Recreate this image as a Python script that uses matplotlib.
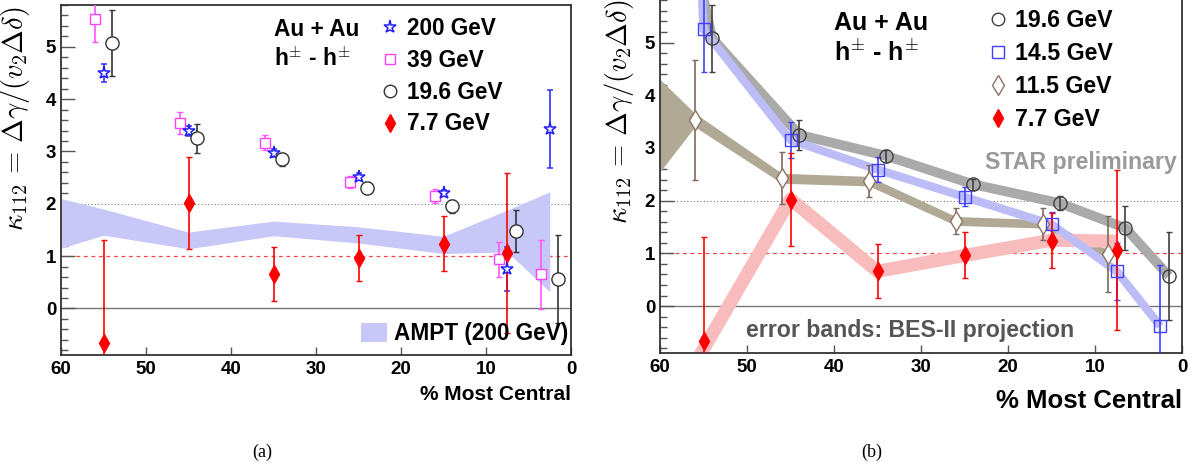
import matplotlib
matplotlib.use("Agg")
import matplotlib.pyplot as plt
from matplotlib.lines import Line2D
from matplotlib.patches import Patch

plt.rcParams['font.family'] = ['Liberation Sans', 'DejaVu Sans']
plt.rcParams['mathtext.fontset'] = 'cm'

# ---------------- data: panel (a) ----------------
cent_200 = [55, 45, 35, 25, 15, 7.5, 2.5]
k_200 = [4.50, 3.39, 2.97, 2.52, 2.21, 0.76, 3.43]
e_200 = [0.17, 0.10, 0.07, 0.06, 0.06, 0.42, 0.75]

cent_39 = [56, 46, 36, 26, 16, 8.5, 3.5]
k_39 = [5.54, 3.55, 3.17, 2.42, 2.15, 0.94, 0.65]
e_39 = [0.44, 0.21, 0.15, 0.12, 0.13, 0.33, 0.66]

cent_196 = [54, 44, 34, 24, 14, 6.5, 1.5]
k_196 = [5.08, 3.25, 2.85, 2.31, 1.95, 1.48, 0.57]
e_196 = [0.63, 0.28, 0.12, 0.11, 0.13, 0.41, 0.84]

cent_77 = [55, 45, 35, 25, 15, 7.5]
k_77 = [-0.67, 2.02, 0.66, 0.97, 1.24, 1.06]
e_77 = [1.98, 0.88, 0.51, 0.44, 0.52, 1.52]

cent_ampt = [60, 55, 45, 35, 25, 15, 7.5, 2.5]
ampt_lo = [1.15, 1.40, 1.14, 1.39, 1.25, 1.05, 1.08, 0.32]
ampt_hi = [2.10, 1.90, 1.46, 1.67, 1.56, 1.38, 1.88, 2.23]

# ---------------- data: panel (b) ----------------
cent_145 = [55, 45, 35, 25, 15, 7.5, 2.5]
k_145 = [5.25, 3.15, 2.59, 2.07, 1.55, 0.66, -0.38]
e_145 = [0.80, 0.34, 0.23, 0.18, 0.24, 0.54, 1.16]

cent_115 = [56, 46, 36, 26, 16, 8.5]
k_115 = [3.53, 2.43, 2.37, 1.61, 1.56, 0.99]
e_115 = [1.13, 0.49, 0.31, 0.25, 0.30, 0.72]

# BES-II projection bands
band196_x = [56, 54, 44, 34, 24, 14, 6.5, 1.5]
band196_y = [6.6, 5.08, 3.25, 2.85, 2.31, 1.95, 1.48, 0.57]
band145_x = [55.6, 55, 45, 35, 25, 15, 7.5, 2.5]
band145_y = [7.5, 5.25, 3.15, 2.59, 2.07, 1.55, 0.66, -0.38]
band77_x = [56, 45, 35, 25, 15, 7.5]
band77_y = [-1.1, 2.03, 0.66, 0.96, 1.25, 1.23]
band115_x = [60, 56, 46, 36, 26, 16, 8.5]
band115_lo = [2.55, 3.40, 2.33, 2.28, 1.53, 1.48, 0.91]
band115_hi = [4.30, 3.66, 2.52, 2.46, 1.70, 1.64, 1.07]

xticks = [60, 50, 40, 30, 20, 10, 0]
yticks = [0, 1, 2, 3, 4, 5]
ylabel = r'$\kappa_{112}\,=\,\Delta\gamma/(v_2\Delta\delta)$'

W, H = 1199, 470
fig = plt.figure(figsize=(W / 100, H / 100), dpi=100)

axA = fig.add_axes([61 / W, 1 - 355 / H, 510 / W, 350 / H])
axB = fig.add_axes([660 / W, 1 - 353 / H, 522 / W, 355.3 / H])


def style(ax, ylim, xlabel_size, label_x):
    ax.set_xlim(60, 0)
    ax.set_ylim(*ylim)
    ax.set_xticks(xticks)
    ax.set_xticklabels([str(t) for t in xticks], fontweight='bold', fontsize=13.5)
    ax.set_yticks(yticks)
    ax.set_yticklabels([str(t) for t in yticks], fontweight='bold', fontsize=13.5)
    ax.set_yticks([v / 10 for v in range(-8, 60, 2) if v % 10 != 0], minor=True)
    ax.tick_params(axis='y', which='major', direction='in', length=10, width=1,
                   color='#555555', pad=3.5)
    ax.tick_params(axis='y', which='minor', direction='in', length=5, width=1,
                   color='#555555')
    ax.tick_params(axis='x', which='major', direction='in', length=6, width=1,
                   color='#555555', pad=4)
    for s in ax.spines.values():
        s.set_color('#333333')
        s.set_linewidth(1.3)
    ax.axhline(2, color='#777777', ls=(0, (1, 2)), lw=0.8, zorder=1)
    ax.axhline(1, color='#ff4040', ls=(0, (3, 3)), lw=0.9, zorder=1)
    ax.axhline(0, color='#777777', ls='-', lw=1.0, zorder=1)
    ax.set_xlabel('% Most Central', fontweight='bold', fontsize=xlabel_size,
                  loc='right')
    ax.set_ylabel(ylabel, fontsize=20.5, loc='top')
    ax.yaxis.set_label_coords(label_x, 0.995)


style(axA, (-0.89, 5.8), 15, -0.057)
style(axB, (-0.89, 5.85), 18.5, -0.046)
axA.xaxis.set_label_coords(1.0, -0.085)
axB.xaxis.set_label_coords(1.0, -0.10)

ebkw = dict(capsize=2, capthick=1, elinewidth=1.2, ls='none', zorder=5)

# ---------------- panel (a) ----------------
axA.fill_between(cent_ampt, ampt_lo, ampt_hi, color='#c8c8f8', lw=0, zorder=2)
axA.errorbar(cent_39, k_39, yerr=e_39, marker='s', ms=6.5, mfc='white', mec='#ff40ff',
             mew=1, ecolor='#ff55ff', **ebkw)
axA.errorbar(cent_200, k_200, yerr=e_200, marker='*', ms=9.5, mfc='white', mec='#2020ff',
             mew=1.1, ecolor='#3030ff', **ebkw)
axA.errorbar(cent_196, k_196, yerr=e_196, marker='o', ms=9.5, mfc='white', mec='#333333',
             mew=1, ecolor='#333333', **ebkw)
axA.errorbar(cent_77, k_77, yerr=e_77, marker='d', ms=9, mfc='#ff0000', mec='#ff0000',
             mew=1, ecolor='#ff0000', **ebkw)

axA.text(34.9, 5.34, 'Au + Au', fontweight='bold', fontsize=16.3, va='center', ha='left')
axA.text(34.9, 4.77, r'h$^{\pm}$ - h$^{\pm}$', fontweight='bold', fontsize=16.3,
         va='center', ha='left')

hA = [Line2D([], [], ls='none', marker='*', ms=9.5, mfc='white', mec='#2020ff', mew=1.1),
      Line2D([], [], ls='none', marker='s', ms=6.5, mfc='white', mec='#ff40ff', mew=1),
      Line2D([], [], ls='none', marker='o', ms=9, mfc='white', mec='#333333', mew=1),
      Line2D([], [], ls='none', marker='d', ms=9, mfc='#ff0000', mec='#ff0000')]
labA = ['200 GeV', '39 GeV', '19.6 GeV', '7.7 GeV']
fig.legend(hA, labA, loc='upper left', bbox_to_anchor=(382 / W, 1 - 17 / H),
           frameon=False, prop={'weight': 'bold', 'size': 16.3},
           handlelength=0.7, handletextpad=0.4, labelspacing=0.39,
           borderpad=0, borderaxespad=0)

fig.legend([Patch(color='#c8c8f8', lw=0)], ['AMPT (200 GeV)'], loc='lower right',
           bbox_to_anchor=(568 / W, 1 - 345 / H), frameon=False,
           prop={'weight': 'bold', 'size': 16.3}, handlelength=1.15,
           handleheight=0.9, handletextpad=0.3, borderpad=0, borderaxespad=0)

# ---------------- panel (b) ----------------
axB.fill_between(band115_x, band115_lo, band115_hi, color='#b0a996', lw=0, zorder=2)
axB.plot(band77_x, band77_y, color='#f9bcbc', lw=9.5, solid_capstyle='butt',
         solid_joinstyle='round', zorder=2.1)
axB.plot(band196_x, band196_y, color='#aaaaaa', lw=7, solid_capstyle='butt',
         solid_joinstyle='round', zorder=2.2)
axB.plot(band145_x, band145_y, color='#bcbcf7', lw=6, solid_capstyle='butt',
         solid_joinstyle='round', zorder=2.3)

axB.errorbar(cent_115, k_115, yerr=e_115, marker='d', ms=10, mfc='white', mec='#8c7364',
             mew=1, ecolor='#7d6a60', **ebkw)
axB.errorbar(cent_196, k_196, yerr=e_196, marker='o', ms=9.5, mfc='none', mec='#404040',
             mew=1, ecolor='#404040', **ebkw)
axB.errorbar(cent_145, k_145, yerr=e_145, marker='s', ms=8, mfc='none', mec='#4040ff',
             mew=1, ecolor='#4040ff', **ebkw)
axB.errorbar(cent_77, k_77, yerr=e_77, marker='d', ms=9, mfc='#ff0000', mec='#ff0000',
             mew=1, ecolor='#ff0000', **ebkw)

axB.text(40.0, 5.37, 'Au + Au', fontweight='bold', fontsize=18, va='center', ha='left')
axB.text(40.0, 4.80, r'h$^{\pm}$ - h$^{\pm}$', fontweight='bold', fontsize=18,
         va='center', ha='left')
axB.text(0.6, 2.73, 'STAR preliminary', fontweight='bold', fontsize=16.7,
         color='#9a9a9a', ha='right', va='center')
axB.text(31.3, -0.47, 'error bands: BES-II projection', fontweight='bold', fontsize=16.7,
         color='#555555', ha='center', va='center')

hB = [Line2D([], [], ls='none', marker='o', ms=9, mfc='white', mec='#404040', mew=1),
      Line2D([], [], ls='none', marker='s', ms=8, mfc='white', mec='#4040ff', mew=1),
      Line2D([], [], ls='none', marker='d', ms=10, mfc='white', mec='#8c7364', mew=1),
      Line2D([], [], ls='none', marker='d', ms=9, mfc='#ff0000', mec='#ff0000')]
labB = ['19.6 GeV', '14.5 GeV', '11.5 GeV', '7.7 GeV']
fig.legend(hB, labB, loc='upper left', bbox_to_anchor=(990 / W, 1 - 9 / H),
           frameon=False, prop={'weight': 'bold', 'size': 16.7},
           handlelength=0.7, handletextpad=0.38, labelspacing=0.43,
           borderpad=0, borderaxespad=0)

fig.text(262 / W, 1 - 452 / H, '(a)', fontsize=13, family='Liberation Serif',
         ha='center', va='center')
fig.text(872 / W, 1 - 452 / H, '(b)', fontsize=13, family='Liberation Serif',
         ha='center', va='center')

fig.savefig('out.png', dpi=100)
